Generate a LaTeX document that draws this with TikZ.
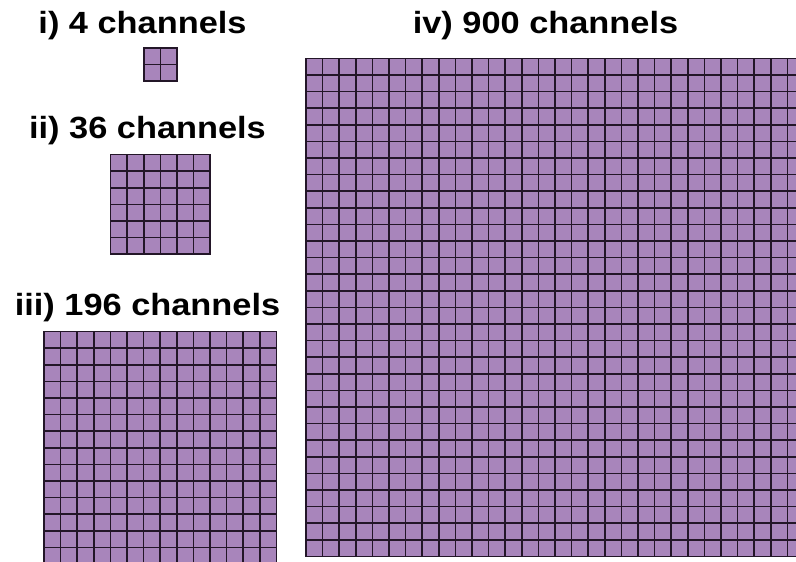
\documentclass[tikz,border=0pt]{standalone}
\usepackage{fontspec}
\setmainfont{Liberation Sans}
\newfontfamily\chfont{Liberation Sans}[FakeStretch=1.12]
\usepackage{tikz}
\usetikzlibrary{positioning}

\definecolor{cellfill}{RGB}{168,133,187}
\definecolor{cellline}{RGB}{35,22,40}

% one square array of n x n channels, top left corner at (#1,#2)
\newcommand{\chgrid}[3]{%
  \fill[cellfill] (#1,#2) rectangle ++(#3*16.6,#3*16.6);
  \foreach \k in {0,...,#3} {
    \draw[gridline] (#1+\k*16.6,#2) -- ++(0,#3*16.6);
    \draw[gridline] (#1,#2+\k*16.6) -- ++(#3*16.6,0);
  }
}

\begin{document}
\begin{tikzpicture}[x=0.75pt,y=-0.75pt]
        \tikzstyle{gridline}=[draw=cellline,line width=1.2pt,line cap=rect]
        \tikzstyle{title}=[inner sep=0pt,anchor=base,font=\chfont\bfseries\fontsize{23}{27}\selectfont]

        \useasboundingbox (0,0) rectangle (796,561);
        \clip (0,0) rectangle (796,561);

        \node[title] (T01) at (142.5,33)  {i) 4 channels};
        \node[title] (T02) at (147.5,138) {ii) 36 channels};
        \node[title] (T03) at (147.5,315) {iii) 196 channels};
        \node[title] (T04) at (545.5,33)  {iv) 900 channels};

        \chgrid{144}{48}{2}      % i
        \chgrid{110.5}{154.5}{6} % ii
        \chgrid{44}{331.5}{14}   % iii
        \chgrid{306}{58.3}{30}   % iv
\end{tikzpicture}
\end{document}
